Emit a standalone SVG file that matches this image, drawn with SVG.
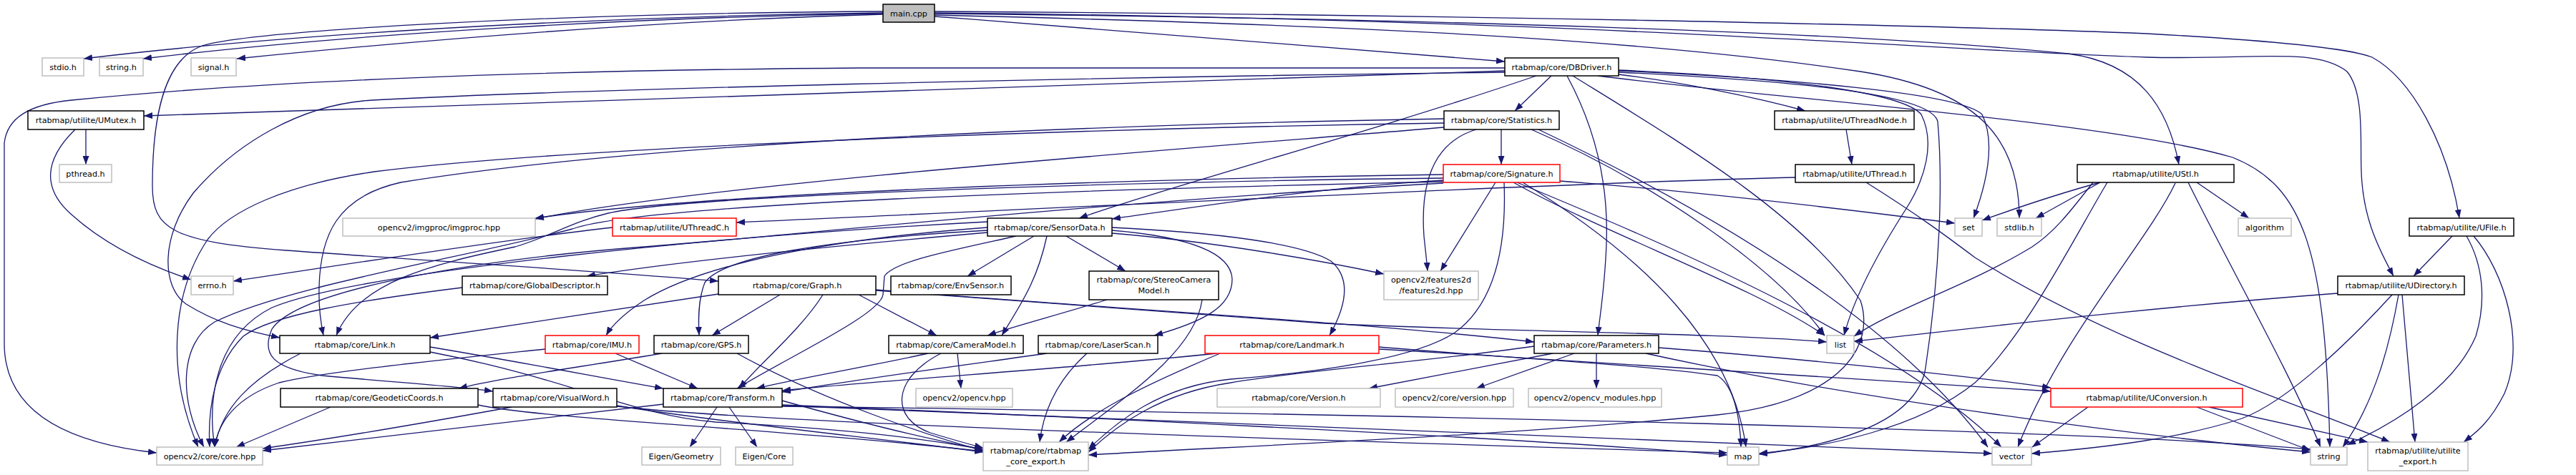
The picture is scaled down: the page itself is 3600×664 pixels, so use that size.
<svg xmlns="http://www.w3.org/2000/svg" width="3600" height="664" viewBox="0 0 3600 664">
<style>
.e{fill:none;stroke:#191970;stroke-width:1.3;marker-end:url(#ah)}
.n rect{fill:#fff;stroke-width:1.5}
.b rect{stroke:#000}
.g rect{stroke:#bfbfbf}
.r rect{stroke:#ff0000}
.m rect{fill:#bfbfbf;stroke:#000}
text{font-family:"DejaVu Sans","Liberation Sans",sans-serif;font-size:11.2px;text-anchor:middle;fill:#000}
</style>
<defs>
<marker id="ah" viewBox="0 0 12 9" refX="12" refY="4.5" markerWidth="12" markerHeight="9" markerUnits="userSpaceOnUse" orient="auto"><path d="M0,0 L12,4.5 L0,9 z" fill="#191970"/></marker>
</defs>
<rect width="3600" height="664" fill="#fff"/>
<g id="edges">
<path class="e" d="M1234,18 C900,22 450,42 117,82"/>
<path class="e" d="M1234,19 C900,24 500,46 200,82"/>
<path class="e" d="M1234,20 C950,28 650,50 331,82"/>
<path class="e" d="M1234,16 C800,18 340,42 280,65 C230,85 213,160 213,260 C213,320 240,338 400,350 C650,368 880,382 1004,393"/>
<path class="e" d="M1306,23 C1600,45 1900,68 2103,86"/>
<path class="e" d="M1306,21 C1900,35 2300,55 2600,100 C2760,125 2822,190 2822,305"/>
<path class="e" d="M1306,19 C2000,26 2600,45 2890,75 C2990,88 3030,150 3045,230"/>
<path class="e" d="M1306,18 C2200,26 2700,70 3000,80 C3150,84 3235,65 3280,100 C3305,130 3298,200 3300,240 C3302,300 3320,340 3345,386"/>
<path class="e" d="M1306,16 C2000,20 2700,35 3000,47 C3200,58 3290,70 3315,80 C3370,110 3420,200 3437,305"/>
<path class="e" d="M2103,99 L201,162"/>
<path class="e" d="M2103,95 L1200,95 C800,98 400,110 100,140 C40,146 10,165 6,200 L6,480 C6,580 100,620 219,633"/>
<path class="e" d="M2168,106 L2117,155"/>
<path class="e" d="M2262,104 C2350,115 2450,135 2523,155"/>
<path class="e" d="M2147,106 C1900,190 1650,255 1508,305"/>
<path class="e" d="M2103,101 C1500,108 800,125 520,140 C420,146 330,200 270,270 C225,330 225,400 260,425 C300,450 340,462 391,472"/>
<path class="e" d="M2190,106 C2230,180 2248,260 2245,340 C2243,400 2236,440 2233,469"/>
<path class="e" d="M2262,99 C2500,110 2740,130 2770,160 C2790,200 2775,260 2758,305"/>
<path class="e" d="M2262,98 C2500,108 2660,130 2685,160 C2705,200 2690,250 2665,290 C2620,360 2590,420 2577,469"/>
<path class="e" d="M2262,101 C2550,115 2700,135 2708,170 C2715,250 2712,380 2690,520 C2670,600 2540,625 2458,635"/>
<path class="e" d="M2233,106 C2500,140 2950,170 3120,220 C3220,260 3250,350 3256,625"/>
<path class="e" d="M2198,106 C2350,200 2520,300 2600,420 C2620,480 2580,560 2400,580 C2100,610 1700,625 1521,636"/>
<path class="e" d="M120,181 L120,230"/>
<path class="e" d="M105,181 C60,225 60,265 100,300 C150,345 210,372 267,391"/>
<path class="e" d="M2580,181 L2588,230"/>
<path class="e" d="M2509,248 C2200,255 1500,290 1029,311"/>
<path class="e" d="M2608,255 C2680,300 2720,330 2760,360 C2950,480 3200,560 3340,618"/>
<path class="e" d="M856,318 C700,335 450,375 326,393"/>
<path class="e" d="M2098,181 L2098,230"/>
<path class="e" d="M2018,178 C1700,205 1000,255 748,306"/>
<path class="e" d="M2018,166 C1500,175 900,200 560,255 C470,275 448,330 446,400 C445,430 448,450 452,469"/>
<path class="e" d="M2018,172 C1500,180 800,205 523,240 C400,258 320,295 290,335 C240,410 232,520 277,625"/>
<path class="e" d="M2063,181 C2000,200 1985,260 1990,330 C1992,350 1994,365 1995,379"/>
<path class="e" d="M2140,181 C2300,250 2480,370 2550,469"/>
<path class="e" d="M2150,181 C2400,300 2650,450 2778,625"/>
<path class="e" d="M2017,244 C1600,250 1000,268 748,305"/>
<path class="e" d="M2017,252 C1850,262 1700,285 1554,306"/>
<path class="e" d="M2017,249 C1500,255 950,275 850,298 C800,310 770,330 720,345 C600,370 500,395 470,469"/>
<path class="e" d="M2017,254 C1500,265 900,285 800,320 C650,360 400,400 300,450 C250,480 250,560 285,625"/>
<path class="e" d="M2017,256 C1500,285 1100,330 900,345 C700,360 420,400 380,460 C365,495 380,515 450,525 C560,535 640,540 689,547"/>
<path class="e" d="M2090,255 L2013,379"/>
<path class="e" d="M2180,253 C2400,270 2600,295 2732,312"/>
<path class="e" d="M2115,255 C2250,330 2450,400 2550,469"/>
<path class="e" d="M2102,255 C2105,330 2095,420 2033,465 C1980,500 1850,520 1720,530 C1620,540 1560,590 1521,628"/>
<path class="e" d="M2128,255 C2300,360 2420,480 2440,625"/>
<path class="e" d="M2120,255 C2350,350 2650,480 2797,625"/>
<path class="e" d="M1380,325 C1150,345 950,365 820,386"/>
<path class="e" d="M1445,330 L1352,386"/>
<path class="e" d="M1490,330 L1573,379"/>
<path class="e" d="M1463,330 C1450,390 1430,420 1400,469"/>
<path class="e" d="M1547,419 C1480,440 1420,455 1380,469"/>
<path class="e" d="M1554,322 C1650,330 1720,350 1722,390 C1722,430 1680,450 1613,469"/>
<path class="e" d="M1554,318 C1700,325 1820,340 1860,365 C1890,390 1880,430 1858,469"/>
<path class="e" d="M1554,326 C1700,338 1850,365 1934,383"/>
<path class="e" d="M1380,318 C1150,335 980,370 900,420 C870,440 855,455 847,469"/>
<path class="e" d="M1380,322 C1150,335 1010,360 985,395 C975,420 976,450 977,469"/>
<path class="e" d="M1420,330 C1330,350 1250,365 1236,386 L1234,412 C1230,440 1100,500 1030,543"/>
<path class="e" d="M1380,310 C1000,330 500,380 380,430 C300,470 290,560 300,625"/>
<path class="e" d="M1090,412 L995,469"/>
<path class="e" d="M1004,411 L601,472"/>
<path class="e" d="M1150,412 C1120,460 1060,510 1033,543"/>
<path class="e" d="M1200,412 L1309,469"/>
<path class="e" d="M1224,405 C1500,428 1900,450 2144,478"/>
<path class="e" d="M1224,406 C1500,428 1700,440 1850,452 C2100,464 2400,465 2553,478"/>
<path class="e" d="M1927,485 C2100,500 2300,510 2400,525 C2425,540 2432,590 2433,625"/>
<path class="e" d="M2170,494 L1913,543"/>
<path class="e" d="M2200,494 L2063,543"/>
<path class="e" d="M2231,494 L2231,543"/>
<path class="e" d="M2318,486 C2500,500 2750,525 2866,542"/>
<path class="e" d="M2144,484 C2000,505 1800,520 1720,535 C1620,550 1560,595 1521,632"/>
<path class="e" d="M2300,494 C2600,560 3000,610 3229,632"/>
<path class="e" d="M601,485 C750,510 850,530 927,543"/>
<path class="e" d="M420,494 C350,530 310,570 300,625"/>
<path class="e" d="M601,492 C800,530 880,580 1000,590 C1200,600 1300,615 1374,628"/>
<path class="e" d="M860,494 L975,543"/>
<path class="e" d="M762,488 C600,505 450,520 390,535 C330,555 305,590 300,625"/>
<path class="e" d="M925,494 C800,515 700,528 641,543"/>
<path class="e" d="M1030,494 C1150,560 1300,610 1374,630"/>
<path class="e" d="M462,569 L330,625"/>
<path class="e" d="M668,566 C750,585 1100,600 1374,631"/>
<path class="e" d="M715,569 C600,590 450,615 367,627"/>
<path class="e" d="M862,567 C1000,590 1250,615 1374,632"/>
<path class="e" d="M862,568 C1100,595 2000,620 2414,633"/>
<path class="e" d="M1002,569 L964,625"/>
<path class="e" d="M1019,569 L1058,625"/>
<path class="e" d="M1093,560 C1200,590 1300,615 1374,628"/>
<path class="e" d="M927,565 C700,590 500,615 367,630"/>
<path class="e" d="M1093,566 C1400,578 2100,610 2414,636"/>
<path class="e" d="M1093,567 C1800,592 2500,620 2784,634"/>
<path class="e" d="M1093,568 C2000,580 2900,600 3229,628"/>
<path class="e" d="M1338,494 L1343,543"/>
<path class="e" d="M1297,494 C1200,515 1120,528 1057,543"/>
<path class="e" d="M1315,494 C1245,530 1245,585 1300,605 C1330,614 1350,620 1374,626"/>
<path class="e" d="M1680,419 C1670,490 1580,550 1490,618"/>
<path class="e" d="M1519,494 C1490,520 1460,560 1453,618"/>
<path class="e" d="M1463,494 C1350,510 1200,530 1093,548"/>
<path class="e" d="M1705,494 C1620,530 1530,570 1480,618"/>
<path class="e" d="M1700,494 C1500,515 1250,530 1093,546"/>
<path class="e" d="M1927,488 C2300,510 2700,535 2866,547"/>
<path class="e" d="M2935,255 C2880,270 2820,290 2770,308"/>
<path class="e" d="M2935,255 L2845,305"/>
<path class="e" d="M3070,255 L3143,305"/>
<path class="e" d="M2925,255 C2890,300 2870,325 2840,345 C2750,400 2650,430 2591,470"/>
<path class="e" d="M2945,255 C2900,330 2830,470 2760,535 C2680,600 2550,625 2458,634"/>
<path class="e" d="M3040,256 C3000,340 2880,470 2820,625"/>
<path class="e" d="M3058,255 C3120,380 3200,520 3243,625"/>
<path class="e" d="M3427,330 L3373,386"/>
<path class="e" d="M3447,330 C3470,370 3475,420 3460,470 C3430,540 3350,590 3280,622"/>
<path class="e" d="M3457,330 C3500,380 3530,480 3500,550 C3480,590 3460,605 3443,618"/>
<path class="e" d="M3267,410 C3000,430 2750,460 2591,477"/>
<path class="e" d="M3352,412 C3340,480 3320,560 3274,625"/>
<path class="e" d="M3357,412 L3375,618"/>
<path class="e" d="M3343,412 C3290,470 3200,560 3133,585 C3050,612 2950,625 2839,634"/>
<path class="e" d="M3070,569 L3229,630"/>
<path class="e" d="M3087,569 L3309,618"/>
<path class="e" d="M2918,569 L2840,625"/>
<path class="e" d="M646,402 C500,420 380,440 340,470 C300,510 290,570 293,625"/>
</g>
<g id="n_main" class="n m"><rect x="1234" y="6" width="72" height="25"/><text x="1270" y="22.5">main.cpp</text></g>
<g id="n_stdio" class="n g"><rect x="59" y="81" width="58" height="25"/><text x="88" y="97.5">stdio.h</text></g>
<g id="n_stringh" class="n g"><rect x="139" y="81" width="61" height="25"/><text x="169.5" y="97.5">string.h</text></g>
<g id="n_signal" class="n g"><rect x="267" y="81" width="63" height="25"/><text x="298.5" y="97.5">signal.h</text></g>
<g id="n_dbdriver" class="n b"><rect x="2103" y="81" width="159" height="25"/><text x="2182.5" y="97.5">rtabmap/core/DBDriver.h</text></g>
<g id="n_umutex" class="n b"><rect x="39" y="155" width="162" height="26"/><text x="120" y="171.5">rtabmap/utilite/UMutex.h</text></g>
<g id="n_statistics" class="n b"><rect x="2018" y="155" width="161" height="26"/><text x="2098.5" y="171.5">rtabmap/core/Statistics.h</text></g>
<g id="n_uthreadnode" class="n b"><rect x="2480" y="155" width="195" height="26"/><text x="2577.5" y="171.5">rtabmap/utilite/UThreadNode.h</text></g>
<g id="n_pthread" class="n g"><rect x="83" y="230" width="73" height="25"/><text x="119.5" y="246.5">pthread.h</text></g>
<g id="n_signature" class="n r"><rect x="2017" y="230" width="163" height="25"/><text x="2098.5" y="246.5">rtabmap/core/Signature.h</text></g>
<g id="n_uthread" class="n b"><rect x="2509" y="230" width="166" height="25"/><text x="2592" y="246.5">rtabmap/utilite/UThread.h</text></g>
<g id="n_ustl" class="n b"><rect x="2903" y="230" width="219" height="25"/><text x="3012.5" y="246.5">rtabmap/utilite/UStl.h</text></g>
<g id="n_imgproc" class="n g"><rect x="479" y="305" width="269" height="25"/><text x="613.5" y="321.5">opencv2/imgproc/imgproc.hpp</text></g>
<g id="n_uthreadc" class="n r"><rect x="856" y="305" width="173" height="25"/><text x="942.5" y="321.5">rtabmap/utilite/UThreadC.h</text></g>
<g id="n_sensordata" class="n b"><rect x="1380" y="305" width="174" height="25"/><text x="1467" y="321.5">rtabmap/core/SensorData.h</text></g>
<g id="n_set" class="n g"><rect x="2732" y="305" width="38" height="25"/><text x="2751" y="321.5">set</text></g>
<g id="n_stdlib" class="n g"><rect x="2791" y="305" width="62" height="25"/><text x="2822" y="321.5">stdlib.h</text></g>
<g id="n_algorithm" class="n g"><rect x="3128" y="305" width="74" height="25"/><text x="3165" y="321.5">algorithm</text></g>
<g id="n_ufile" class="n b"><rect x="3367" y="305" width="146" height="25"/><text x="3440" y="321.5">rtabmap/utilite/UFile.h</text></g>
<g id="n_errno" class="n g"><rect x="267" y="386" width="59" height="26"/><text x="296.5" y="402.5">errno.h</text></g>
<g id="n_globaldesc" class="n b"><rect x="646" y="386" width="203" height="26"/><text x="747.5" y="402.5">rtabmap/core/GlobalDescriptor.h</text></g>
<g id="n_graph" class="n b"><rect x="1004" y="386" width="220" height="26"/><text x="1114" y="402.5">rtabmap/core/Graph.h</text></g>
<g id="n_envsensor" class="n b"><rect x="1245" y="386" width="168" height="26"/><text x="1329" y="402.5">rtabmap/core/EnvSensor.h</text></g>
<g id="n_stereo" class="n b"><rect x="1522" y="379" width="181" height="40"/><text x="1612.5" y="395">rtabmap/core/StereoCamera</text><text x="1612.5" y="410">Model.h</text></g>
<g id="n_features2d" class="n g"><rect x="1934" y="379" width="132" height="40"/><text x="2000" y="395">opencv2/features2d</text><text x="2000" y="410">/features2d.hpp</text></g>
<g id="n_udirectory" class="n b"><rect x="3267" y="386" width="177" height="26"/><text x="3355.5" y="402.5">rtabmap/utilite/UDirectory.h</text></g>
<g id="n_link" class="n b"><rect x="391" y="469" width="210" height="25"/><text x="496" y="485.5">rtabmap/core/Link.h</text></g>
<g id="n_imu" class="n r"><rect x="762" y="469" width="131" height="25"/><text x="827.5" y="485.5">rtabmap/core/IMU.h</text></g>
<g id="n_gps" class="n b"><rect x="914" y="469" width="132" height="25"/><text x="980" y="485.5">rtabmap/core/GPS.h</text></g>
<g id="n_cameramodel" class="n b"><rect x="1242" y="469" width="188" height="25"/><text x="1336" y="485.5">rtabmap/core/CameraModel.h</text></g>
<g id="n_laserscan" class="n b"><rect x="1451" y="469" width="167" height="25"/><text x="1534.5" y="485.5">rtabmap/core/LaserScan.h</text></g>
<g id="n_landmark" class="n r"><rect x="1684" y="469" width="243" height="25"/><text x="1805.5" y="485.5">rtabmap/core/Landmark.h</text></g>
<g id="n_parameters" class="n b"><rect x="2144" y="469" width="174" height="25"/><text x="2231" y="485.5">rtabmap/core/Parameters.h</text></g>
<g id="n_list" class="n g"><rect x="2553" y="469" width="38" height="25"/><text x="2572" y="485.5">list</text></g>
<g id="n_geodetic" class="n b"><rect x="392" y="543" width="276" height="26"/><text x="530" y="559.5">rtabmap/core/GeodeticCoords.h</text></g>
<g id="n_visualword" class="n b"><rect x="689" y="543" width="173" height="26"/><text x="775.5" y="559.5">rtabmap/core/VisualWord.h</text></g>
<g id="n_transform" class="n b"><rect x="927" y="543" width="166" height="26"/><text x="1010" y="559.5">rtabmap/core/Transform.h</text></g>
<g id="n_opencvhpp" class="n g"><rect x="1280" y="543" width="135" height="26"/><text x="1347.5" y="559.5">opencv2/opencv.hpp</text></g>
<g id="n_version" class="n g"><rect x="1701" y="543" width="228" height="26"/><text x="1815" y="559.5">rtabmap/core/Version.h</text></g>
<g id="n_cvversion" class="n g"><rect x="1950" y="543" width="165" height="26"/><text x="2032.5" y="559.5">opencv2/core/version.hpp</text></g>
<g id="n_cvmodules" class="n g"><rect x="2136" y="543" width="186" height="26"/><text x="2229" y="559.5">opencv2/opencv_modules.hpp</text></g>
<g id="n_uconversion" class="n r"><rect x="2866" y="543" width="268" height="26"/><text x="3000" y="559.5">rtabmap/utilite/UConversion.h</text></g>
<g id="n_corehpp" class="n g"><rect x="219" y="625" width="148" height="25"/><text x="293" y="641.5">opencv2/core/core.hpp</text></g>
<g id="n_eigengeo" class="n g"><rect x="897" y="625" width="110" height="25"/><text x="952" y="641.5">Eigen/Geometry</text></g>
<g id="n_eigencore" class="n g"><rect x="1028" y="625" width="80" height="25"/><text x="1068" y="641.5">Eigen/Core</text></g>
<g id="n_coreexport" class="n g"><rect x="1374" y="618" width="147" height="40"/><text x="1447.5" y="634">rtabmap/core/rtabmap</text><text x="1447.5" y="649">_core_export.h</text></g>
<g id="n_map" class="n g"><rect x="2414" y="625" width="44" height="25"/><text x="2436" y="641.5">map</text></g>
<g id="n_vector" class="n g"><rect x="2784" y="625" width="55" height="25"/><text x="2811.5" y="641.5">vector</text></g>
<g id="n_string" class="n g"><rect x="3229" y="625" width="51" height="25"/><text x="3254.5" y="641.5">string</text></g>
<g id="n_uexport" class="n g"><rect x="3309" y="618" width="140" height="40"/><text x="3379" y="634">rtabmap/utilite/utilite</text><text x="3379" y="649">_export.h</text></g>
</svg>
